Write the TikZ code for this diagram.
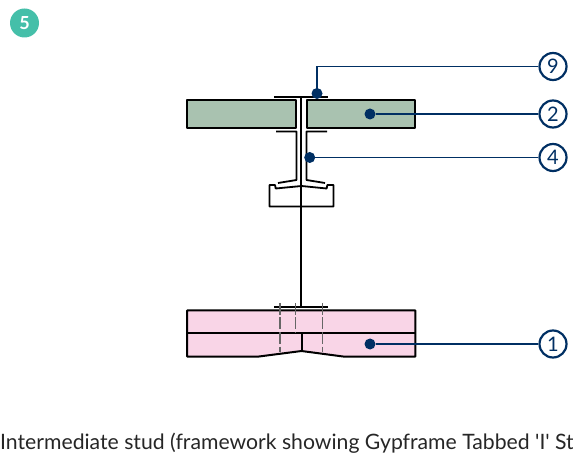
\documentclass[tikz,border=0pt]{standalone}
\usepackage{fontspec}
\setmainfont{Lato}
\newfontfamily\capfont{Lato}
\definecolor{navy}{HTML}{002F63}
\definecolor{boardgreen}{HTML}{A9C2B0}
\definecolor{boardpink}{HTML}{F9D5E7}
\definecolor{teal}{HTML}{45BFA9}
\tikzset{
  part/.style={draw=black,line width=2pt,line join=round},
  steel/.style={draw=black,line width=1.8pt,line join=round},
  leader/.style={draw=navy,line width=1.2pt},
  callout/.style={circle,draw=navy,line width=2.2pt,fill=white,minimum size=27pt,inner sep=0pt,text=navy,font=\fontsize{20}{20}\selectfont},
  dotmark/.style={circle,fill=navy,minimum size=11pt,inner sep=0pt},
  hidden/.style={draw=black!60,line width=1.2pt,dash pattern=on 12pt off 2.5pt},
}
\begin{document}
\begin{tikzpicture}[x=1pt,y=-1pt]
\useasboundingbox (0,0) rectangle (573,454);
\node[circle,fill=teal,minimum size=29pt,inner sep=0pt,text=white,font=\fontsize{18}{18}\selectfont\bfseries] (badge) at (24.5,23) {5};
% boards
\draw[part,fill=boardgreen] (187.3,100.5) rectangle (295.7,128.5);
\draw[part,fill=boardgreen] (307.3,100.5) rectangle (415.3,128.5);
\draw[part,fill=boardpink] (187,310.5) -- (415.3,310.5) -- (415.3,356.5) -- (343,356.5) -- (301.5,351) -- (259,356.5) -- (187,356.5) -- cycle;
\draw[part] (187,333.5) -- (415.3,333.5);
\draw[part] (301.5,333.5) -- (301.5,351);
% stud
\draw[steel] (274,97) -- (328,97);
\draw[steel] (301,97) -- (301,306.9);
\draw[steel] (276,131.5) -- (296.5,131.5) -- (296.5,180) -- (278,183);
\draw[steel] (327,131.5) -- (306.5,131.5) -- (306.5,180) -- (325,183);
\draw[steel] (269.5,185) -- (275,185) -- (275.7,188.5) -- (301.5,186) -- (326.7,188.5) -- (327.3,185) -- (333.5,185) -- (333.5,206.5) -- (269.5,206.5) -- cycle;
% lower track
\draw[steel] (274,306.9) -- (328,306.9);
\draw[hidden] (280,303) -- (280,352);
\draw[hidden] (295.7,303) -- (295.7,333);
\draw[hidden] (322.7,303) -- (322.7,352);
% callouts
\node[callout] (n9) at (553,66.5) {9};
\node[callout] (n2) at (553,114) {2};
\node[callout] (n4) at (553,157.5) {4};
\node[callout] (n1) at (553,344) {1};
\node[dotmark] (d9) at (317,93.5) {};
\node[dotmark] (d2) at (370,114) {};
\node[dotmark] (d4) at (309.7,157.5) {};
\node[dotmark] (d1) at (370,344) {};
\draw[leader] (d9.center) -- (d9.center |- n9) -- (n9);
\draw[leader] (d2) -- (n2);
\draw[leader] (d4) -- (n4);
\draw[leader] (d1) -- (n1);
\node[anchor=base west,inner sep=0pt,font=\capfont\fontsize{21.2}{21.2}\selectfont,text=black!85] (cap) at (0,449) {Intermediate stud (framework showing Gypframe Tabbed 'I' St};
\end{tikzpicture}
\end{document}
